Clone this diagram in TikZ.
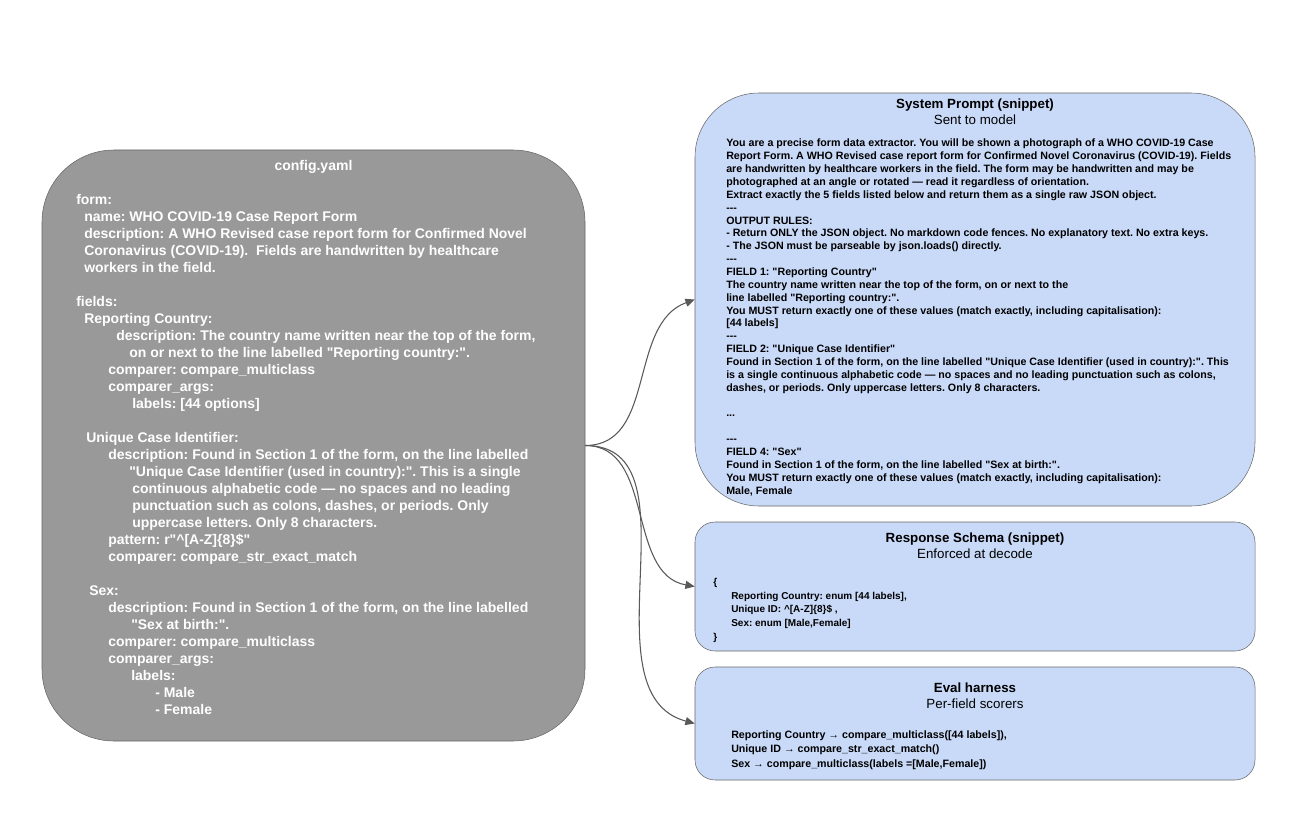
\documentclass[tikz,border=0pt]{standalone}
\usepackage{fontspec}
\setmainfont{Liberation Sans}[Ligatures=TeXOff]
\usetikzlibrary{arrows.meta}
\definecolor{paleblue}{HTML}{C9DAF8}
\newlength\pxl
\setlength\pxl{0.75pt}
\newcommand\ind[1]{\hspace*{#1\pxl}}
\frenchspacing

\tikzset{
  cfgbox/.style={draw=black!60, fill=black!40, rounded corners=54pt, inner sep=0pt},
  bigblue/.style={draw=black!60, fill=paleblue, rounded corners=48pt, inner sep=0pt},
  smallblue/.style={draw=black!60, fill=paleblue, rounded corners=15pt, inner sep=0pt},
  cfgtext/.style={white, inner sep=0pt, align=left, anchor=north west, font=\fontsize{10.5}{12.75}\selectfont\bfseries},
  bodytext/.style={inner sep=0pt, align=left, anchor=north west, font=\fontsize{8}{9.64}\selectfont\bfseries},
  headtext/.style={inner sep=0pt, align=center, font=\fontsize{10}{12}\selectfont},
  link/.style={draw=black!65, line width=0.8pt, -{Triangle[length=7pt,width=6pt]}}
}

\begin{document}
\begin{tikzpicture}[x=0.75pt, y=-0.75pt]
  \useasboundingbox (0,0) rectangle (1306,820);

  %%% boxes
  \node[cfgbox, minimum width=543\pxl, minimum height=591\pxl] (config) at (313.5,445.5) {};
  \node[bigblue, minimum width=560\pxl, minimum height=413\pxl] (prompt) at (975,299.5) {};
  \node[smallblue, minimum width=560\pxl, minimum height=129\pxl] (schema) at (975,586.5) {};
  \node[smallblue, minimum width=560\pxl, minimum height=113\pxl] (harness) at (975,723.5) {};

  %%% config.yaml
  \node[headtext, white, font=\fontsize{10.5}{12.6}\selectfont\bfseries] (cfgtitle) at (313.5,167) {config.yaml};
  \node[cfgtext] (cfgbody) at (76,194) {%
    form:\\
    \ind{8}name: WHO COVID-19 Case Report Form\\
    \ind{8}description: A WHO Revised case report form for Confirmed Novel\\
    \ind{8}Coronavirus (COVID-19).\ \ Fields are handwritten by healthcare\\
    \ind{8}workers in the field.\\[12.75pt]
    fields:\\
    \ind{8}Reporting Country:\\
    \ind{40}description: The country name written near the top of the form,\\
    \ind{53}on or next to the line labelled "Reporting country:".\\
    \ind{32}comparer: compare\_multiclass\\
    \ind{32}comparer\_args:\\
    \ind{56}labels: [44 options]\\[12.75pt]
    \ind{10}Unique Case Identifier:\\
    \ind{32}description: Found in Section 1 of the form, on the line labelled\\
    \ind{53}"Unique Case Identifier (used in country):". This is a single\\
    \ind{56}continuous alphabetic code — no spaces and no leading\\
    \ind{56}punctuation such as colons, dashes, or periods. Only\\
    \ind{56}uppercase letters. Only 8 characters.\\
    \ind{32}pattern: r"\textasciicircum[A-Z]\{8\}\$"\\
    \ind{32}comparer: compare\_str\_exact\_match\\[12.75pt]
    \ind{13}Sex:\\
    \ind{32}description: Found in Section 1 of the form, on the line labelled\\
    \ind{55}"Sex at birth:".\\
    \ind{32}comparer: compare\_multiclass\\
    \ind{32}comparer\_args:\\
    \ind{55}labels:\\
    \ind{79}- Male\\
    \ind{79}- Female};

  %%% system prompt
  \node[headtext] (prompttitle) at (975,112) {\textbf{System Prompt (snippet)}\\Sent to model};
  \node[bodytext] (promptbody) at (726,139) {%
    You are a precise form data extractor. You will be shown a photograph of a WHO COVID-19 Case\\
    Report Form. A WHO Revised case report form for Confirmed Novel Coronavirus (COVID-19). Fields\\
    are handwritten by healthcare workers in the field. The form may be handwritten and may be\\
    photographed at an angle or rotated — read it regardless of orientation.\\
    Extract exactly the 5 fields listed below and return them as a single raw JSON object.\\
    ---\\
    OUTPUT RULES:\\
    - Return ONLY the JSON object. No markdown code fences. No explanatory text. No extra keys.\\
    - The JSON must be parseable by json.loads() directly.\\
    ---\\
    FIELD 1: "Reporting Country"\\
    The country name written near the top of the form, on or next to the\\
    line labelled "Reporting country:".\\
    You MUST return exactly one of these values (match exactly, including capitalisation):\\
    {[44 labels]}\\
    ---\\
    FIELD 2: "Unique Case Identifier"\\
    Found in Section 1 of the form, on the line labelled "Unique Case Identifier (used in country):". This\\
    is a single continuous alphabetic code — no spaces and no leading punctuation such as colons,\\
    dashes, or periods. Only uppercase letters. Only 8 characters.\\[9.64pt]
    ...\\[9.64pt]
    ---\\
    FIELD 4: "Sex"\\
    Found in Section 1 of the form, on the line labelled "Sex at birth:".\\
    You MUST return exactly one of these values (match exactly, including capitalisation):\\
    Male, Female};

  %%% response schema
  \node[headtext] (schematitle) at (975,546) {\textbf{Response Schema (snippet)}\\Enforced at decode};
  \node[bodytext, font=\fontsize{7.5}{10.3}\selectfont\bfseries] (schemabody) at (713,578) {%
    \{\\
    \ind{18}Reporting Country: enum [44 labels],\\
    \ind{18}Unique ID: \textasciicircum[A-Z]\{8\}\$ ,\\
    \ind{18}Sex: enum [Male,Female]\\
    \}};

  %%% eval harness
  \node[headtext] (harnesstitle) at (975,696) {\textbf{Eval harness}\\Per-field scorers};
  \node[bodytext, font=\fontsize{8}{11}\selectfont\bfseries] (harnessbody) at (731,730) {%
    Reporting Country → compare\_multiclass([44 labels]),\\
    Unique ID → compare\_str\_exact\_match()\\
    Sex → compare\_multiclass(labels =[Male,Female])};

  %%% connectors
  \draw[link] (config.east) to[out=0, in=200] (prompt.west);
  \draw[link] (config.east) to[out=0, in=170] (schema.west);
  \draw[link] (config.east) to[out=0, in=165] (harness.west);
\end{tikzpicture}
\end{document}
